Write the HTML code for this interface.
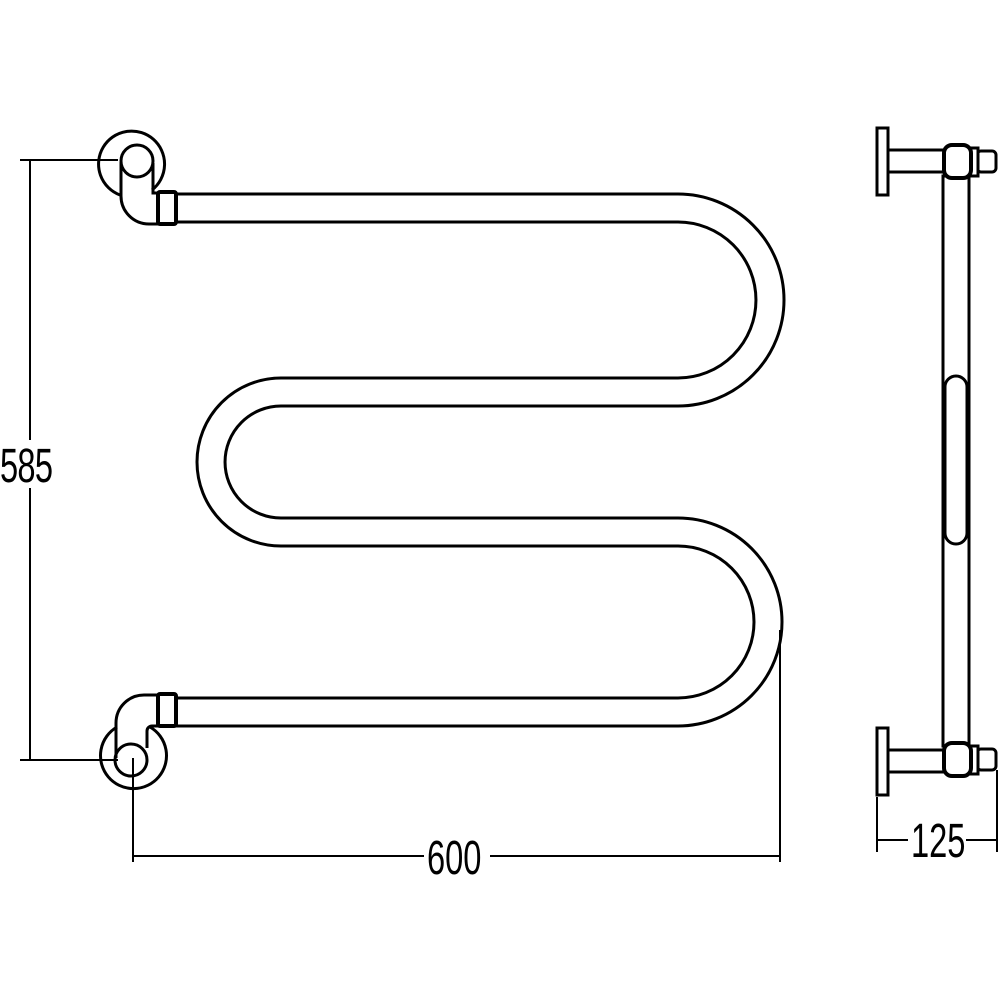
<!DOCTYPE html>
<html><head><style>
html,body{margin:0;padding:0;background:#fff;}
svg{display:block;}
text{font-family:"Liberation Sans",sans-serif;font-size:48px;fill:#000;}
</style></head><body>
<svg width="1000" height="1000" viewBox="0 0 1000 1000" xmlns="http://www.w3.org/2000/svg">
<rect width="1000" height="1000" fill="#fff"/>
<g fill="none" stroke="#000" stroke-width="3">
<!-- serpentine outer and inner -->
<path d="M176 194 H678 A106 106 0 0 1 678 406 H281 A56 56 0 0 0 281 518 H678 A104 104 0 0 1 678 726 H176"/>
<path d="M176 222 H678 A78 78 0 0 1 678 378 H281 A84 84 0 0 0 281 546 H678 A76 76 0 0 1 678 698 H176"/>
<!-- top fitting -->
<path d="M120 195 A33 33 0 1 1 152 190"/>
<circle cx="137" cy="161" r="16" fill="#fff"/>
<path d="M121 162 V196 A28 28 0 0 0 149 224 H158 M153 163 V193 H158"/>
<rect x="158" y="192" width="18" height="32" rx="2" fill="#fff" stroke-width="4"/>
<!-- bottom fitting -->
<path d="M117 727 A33 33 0 1 0 150 727"/>
<circle cx="131" cy="760" r="16" fill="#fff"/>
<path d="M116 758 V723 A28 28 0 0 1 144 695 H158 M147 748 V731 A5 5 0 0 1 152 726 H158"/>
<rect x="158" y="694" width="18" height="32" rx="2" fill="#fff" stroke-width="4"/>
</g>
<!-- dimensions -->
<g stroke="#000" stroke-width="2" fill="none">
<path d="M20 160 H118 M20 760 H118 M30 160 V760"/>
<path d="M133 758 V862 M780 630 V862 M133 856 H780"/>
<path d="M877 797 V852 M997 770 V852 M877 840 H997"/>
</g>
<rect x="0" y="440" width="56" height="48" fill="#fff"/>
<text x="0" y="482" transform="translate(0,0) scale(0.68,1)" textLength="78">585</text>
<rect x="424" y="836" width="66" height="44" fill="#fff"/>
<text transform="translate(427,874) scale(0.68,1)">600</text>
<rect x="908" y="820" width="58" height="44" fill="#fff"/>
<text transform="translate(911,857) scale(0.68,1)">125</text>
<!-- side view -->
<g fill="#fff" stroke="#000" stroke-width="3">
<rect x="943" y="176" width="26" height="570"/>
<rect x="945" y="376" width="22" height="168" rx="11"/>
<!-- top -->
<rect x="877" y="128" width="11" height="67"/>
<rect x="888" y="150" width="57" height="22"/>
<rect x="977" y="151" width="19" height="21" rx="4"/>
<rect x="970" y="148" width="8" height="28"/>
<rect x="944" y="145" width="27" height="33" rx="8" stroke-width="4"/>
<!-- bottom -->
<rect x="877" y="728" width="11" height="67"/>
<rect x="888" y="750" width="57" height="22"/>
<rect x="977" y="749" width="19" height="21" rx="4"/>
<rect x="970" y="746" width="8" height="28"/>
<rect x="944" y="743" width="27" height="33" rx="8" stroke-width="4"/>
</g>
</svg>
</body></html>
